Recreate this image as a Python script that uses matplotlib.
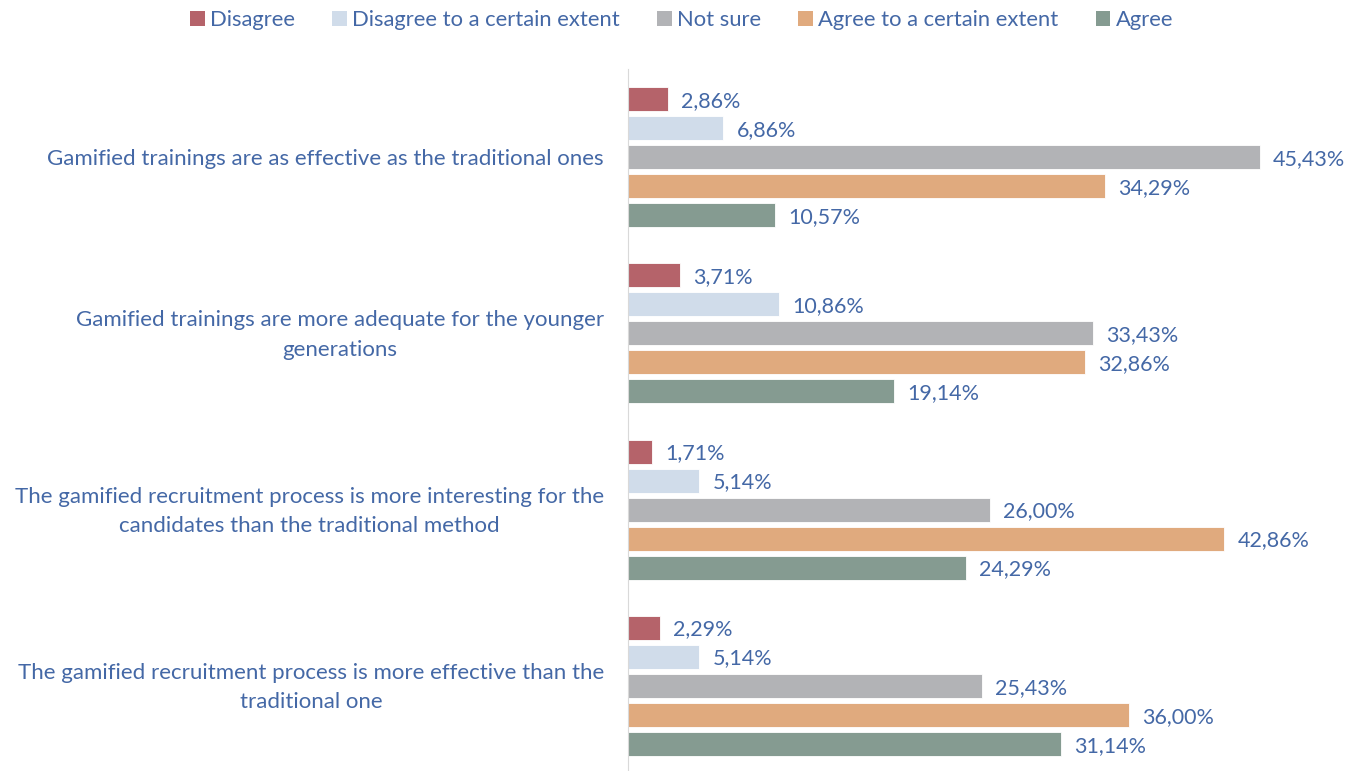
import numpy as np
import matplotlib.pyplot as plt
from matplotlib.patches import Patch

plt.rcParams['font.family'] = ['Lato', 'DejaVu Sans']

statements = [
    "Gamified trainings are as effective as the traditional ones",
    "Gamified trainings are more adequate for the younger\ngenerations",
    "The gamified recruitment process is more interesting for the\ncandidates than the traditional method",
    "The gamified recruitment process is more effective than the\ntraditional one",
]
answers = ["Disagree", "Disagree to a certain extent", "Not sure",
           "Agree to a certain extent", "Agree"]
disagree = [2.86, 3.71, 1.71, 2.29]
disagree_some = [6.86, 10.86, 5.14, 5.14]
not_sure = [45.43, 33.43, 26.00, 25.43]
agree_some = [34.29, 32.86, 42.86, 36.00]
agree = [10.57, 19.14, 24.29, 31.14]
series = [disagree, disagree_some, not_sure, agree_some, agree]
colors = ['#B5636A', '#D0DCEA', '#B2B3B6', '#E0AA7E', '#859B91']
txt = '#4468A6'

fig = plt.figure(figsize=(13.58, 7.71), dpi=100)
ax = fig.add_axes([628 / 1358, 0, 695.5 / 1358, 702 / 771])

step = 29 / 176
h = 24 / 176
base = np.arange(len(statements))
for k, (vals, c) in enumerate(zip(series, colors)):
    y = base + (k - 2) * step
    ax.barh(y, vals, height=h, color=c, edgecolor='white', linewidth=0.6)
    for yi, v in zip(y, vals):
        ax.text(v + 0.95, yi + 0.01, f"{v:.2f}%".replace('.', ','), va='center',
                ha='left', fontsize=15.5, color=txt)

ax.set_xlim(0, 50)
ax.set_ylim(3.483, -0.5)
ax.set_xticks([])
ax.set_yticks([])
for s in ['top', 'right', 'bottom']:
    ax.spines[s].set_visible(False)
ax.spines['left'].set_color('#D9D9D9')

for i, lab in enumerate(statements):
    ax.text(-24 / 13.91, i + 0.01, lab, ha='right', va='center', multialignment='center',
            fontsize=16, color=txt, linespacing=1.6)

handles = [Patch(facecolor=c, label=a) for a, c in zip(answers, colors)]
fig.legend(handles=handles, loc='upper center', bbox_to_anchor=(0.502, 1.012),
           ncol=5, frameon=False, fontsize=15.8, labelcolor=txt,
           handlelength=0.65, handleheight=0.65, handletextpad=0.25,
           columnspacing=1.7)

fig.savefig('out.png', dpi=100)
